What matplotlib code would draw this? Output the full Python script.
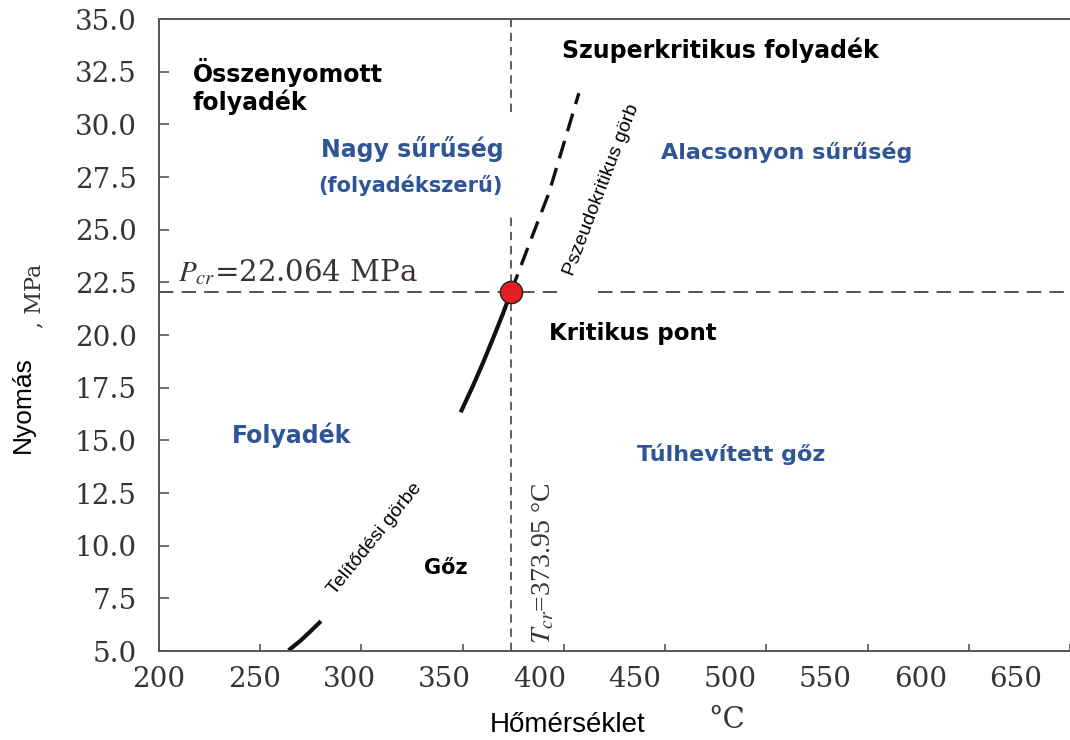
import matplotlib
matplotlib.use('Agg')
import matplotlib.pyplot as plt

# Saturation curve (steam table values), drawn in two pieces
sat_T_low = [264, 270, 275, 280]
sat_P_low = [5.03, 5.50, 5.95, 6.42]
sat_T_high = [349, 355, 360, 365, 370, 373.95]
sat_P_high = [16.33, 17.57, 18.67, 19.84, 21.04, 22.064]

# Pseudocritical line
pc_T = [373.95, 383, 392.6, 400, 407.4]
pc_P = [22.064, 24.35, 26.74, 29.1, 31.48]

T_cr = 373.95
P_cr = 22.064

x_ticks = [200, 250, 300, 350, 400, 450, 500, 550, 600, 650]
y_ticks = [5.0, 7.5, 10.0, 12.5, 15.0, 17.5, 20.0, 22.5, 25.0, 27.5, 30.0, 32.5, 35.0]

plt.rcParams['mathtext.fontset'] = 'stix'

BLUE = '#2f5596'
SERIF = '#3a3333'
BOLD = 'DejaVu Sans'

fig = plt.figure(figsize=(10.7, 7.4), dpi=100)
ax = fig.add_axes([159 / 1070, 89 / 740, 1 - 159 / 1070, 632 / 740])
x_max = 648.8
ax.set_xlim(200, x_max)
ax.set_ylim(5, 35)

for s in ['left', 'bottom', 'top']:
    ax.spines[s].set_color('#555555')
    ax.spines[s].set_linewidth(1.4)
ax.spines['right'].set_visible(False)

ax.set_xticks(x_ticks)
ax.set_xticklabels([''] * len(x_ticks))
ax.set_yticks(y_ticks)
ax.set_yticklabels([f'{v:.1f}' for v in y_ticks], family='DejaVu Serif',
                   fontsize=20, color=SERIF)
ax.tick_params(axis='y', direction='in', length=7, width=1.2, color='#555555', pad=16)
ax.tick_params(axis='x', direction='in', length=5, width=1.2, color='#555555')
ax.tick_params(top=False, right=False)

# x tick labels sit on their own (slightly shifted) scale, like the source figure
ax2 = ax.twiny()
ax2.set_xlim(200, 200 + 911 / 1.904)
ax2.xaxis.set_ticks_position('bottom')
ax2.set_xticks(x_ticks)
ax2.set_xticklabels([str(v) for v in x_ticks], family='DejaVu Serif',
                    fontsize=20, color=SERIF)
ax2.tick_params(axis='x', length=0, pad=11)
for s in ax2.spines.values():
    s.set_visible(False)
ax2.patch.set_visible(False)

# critical isobar / isotherm
ax.plot([200, 397], [P_cr, P_cr], color='#444444', lw=1.3, ls=(0, (8, 4.5)))
ax.plot([417, x_max], [P_cr, P_cr], color='#444444', lw=1.3, ls=(0, (8, 4.5)))
ax.plot([T_cr, T_cr], [5, 25.8], color='#444444', lw=1.2, ls=(0, (5, 3.5)))
ax.plot([T_cr, T_cr], [30.57, 35], color='#444444', lw=1.2, ls=(0, (5, 3.5)))

# curves
ax.plot(sat_T_low, sat_P_low, color='#111111', lw=3.0, solid_capstyle='butt')
ax.plot(sat_T_high, sat_P_high, color='#111111', lw=3.0, solid_capstyle='butt')
ax.plot(pc_T, pc_P, color='#111111', lw=2.4, ls=(0, (5.5, 3)))
ax.plot([T_cr], [P_cr], 'o', ms=16, color='#e31e24', mec='#222222', mew=1)

# region labels
ax.text(216.7, 31.8, 'Összenyomott\nfolyadék', family=BOLD, weight='bold',
        fontsize=17, ha='left', va='center', linespacing=1.1)
ax.text(399, 33.5, 'Szuperkritikus folyadék', family=BOLD, weight='bold',
        fontsize=17, ha='left', va='center')
ax.text(325.1, 28.81, 'Nagy sűrűség', family=BOLD, weight='bold', color=BLUE,
        fontsize=17, ha='center', va='center')
ax.text(324.1, 27.1, '(folyadékszerű)', family=BOLD, weight='bold', color=BLUE,
        fontsize=15, ha='center', va='center')
ax.text(509.9, 28.67, 'Alacsonyon sűrűség', family=BOLD, weight='bold', color=BLUE,
        fontsize=16, ha='center', va='center')
ax.text(392.6, 20.07, 'Kritikus pont', family=BOLD, weight='bold',
        fontsize=16.5, ha='left', va='center')
ax.text(265.5, 15.22, 'Folyadék', family=BOLD, weight='bold', color=BLUE,
        fontsize=17, ha='center', va='center')
ax.text(482.8, 14.32, 'Túlhevített gőz', family=BOLD, weight='bold', color=BLUE,
        fontsize=16, ha='center', va='center')
ax.text(341.9, 8.94, 'Gőz', family=BOLD, weight='bold',
        fontsize=15, ha='center', va='center')

ax.text(306.5, 10.33, 'Telítődési görbe', family='Liberation Sans', fontsize=14,
        rotation=51, ha='center', va='center', rotation_mode='anchor')
ax.text(418.5, 26.9, 'Pszeudokritikus görb', family='Liberation Sans', fontsize=14,
        rotation=69, ha='center', va='center', rotation_mode='anchor')

ax.text(209.4, 23.0, r'$P_{cr}$=22.064 MPa', family='DejaVu Serif', fontsize=21,
        color=SERIF, ha='left', va='center')
ax.text(390.1, 9.18, r'$T_{cr}$=373.95 °C', family='Liberation Serif', fontsize=20,
        color=SERIF, rotation=90, ha='center', va='center')

# axis titles
fig.text(23 / 1070, 1 - 405 / 740, 'Nyomás', family='Liberation Sans', fontsize=19,
         rotation=90, ha='center', va='center')
fig.text(34 / 1070, 1 - 296 / 740, ', MPa', family='DejaVu Serif', fontsize=16,
         color=SERIF, rotation=90, ha='center', va='center')
fig.text(568 / 1070, 1 - 725 / 740, 'Hőmérséklet', family='Liberation Sans',
         fontsize=20, ha='center', va='center')
fig.text(727 / 1070, 1 - 720 / 740, '°C', family='DejaVu Serif', fontsize=21,
         color=SERIF, ha='center', va='center')

fig.savefig('out.png', dpi=100)
